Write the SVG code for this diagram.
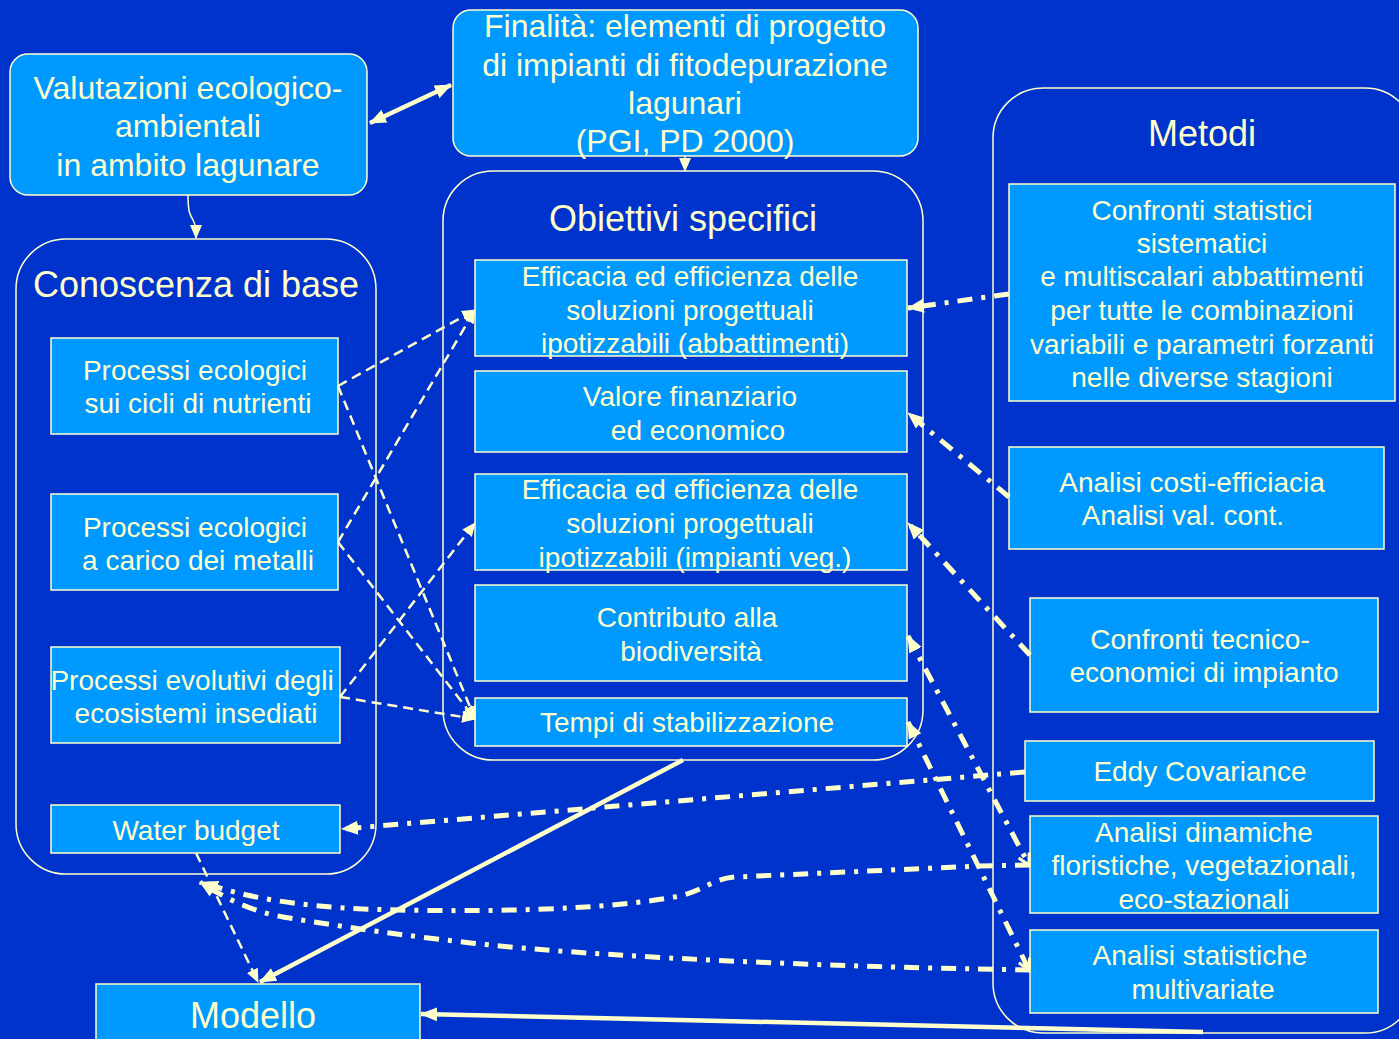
<svg xmlns="http://www.w3.org/2000/svg" width="1399" height="1039" viewBox="0 0 1399 1039">
<defs>
<style>
.bg{fill:#0033CC}
.box{fill:#0099FF;stroke:#FFFFCC;stroke-width:1.5}
.cont{fill:none;stroke:#FFFFCC;stroke-width:1.5}
text{font-family:"Liberation Sans",Arial,sans-serif;fill:#FFFFCC;text-anchor:middle}
.t28{font-size:28px}
.t32{font-size:32px}
.t36{font-size:36px}
.solid{fill:none;stroke:#FFFFCC;stroke-width:4.5}
.thin{fill:none;stroke:#FFFFCC;stroke-width:1.5}
.dash{fill:none;stroke:#FFFFCC;stroke-width:2.5;stroke-dasharray:10 6}
.dd{fill:none;stroke:#FFFFCC;stroke-width:5;stroke-dasharray:15 9 4 9}
</style>
<marker id="ah" markerUnits="userSpaceOnUse" markerWidth="18" markerHeight="16" refX="16" refY="8" orient="auto-start-reverse" viewBox="0 0 18 16">
<path d="M0,1 L17,8 L0,15 z" fill="#FFFFCC"/>
</marker>
<marker id="ahs" markerUnits="userSpaceOnUse" markerWidth="14" markerHeight="14" refX="13" refY="7" orient="auto" viewBox="0 0 14 14">
<path d="M0,1 L14,7 L0,13 z" fill="#FFFFCC"/>
</marker>
<marker id="ao" markerUnits="userSpaceOnUse" markerWidth="16" markerHeight="16" refX="13" refY="8" orient="auto" viewBox="0 0 16 16">
<path d="M2,2 L13,8 L2,14" fill="none" stroke="#FFFFCC" stroke-width="3"/>
</marker>
</defs>
<rect class="bg" x="0" y="0" width="1399" height="1039"/>

<g id="containers">
<g id="conoscenza">
<rect class="cont" x="16" y="239" width="360" height="635" rx="50"/>
<text class="t36" x="196" y="297">Conoscenza di base</text>
</g>
<g id="obiettivi">
<rect class="cont" x="443" y="171" width="480" height="589" rx="50"/>
<text class="t36" x="683" y="231">Obiettivi specifici</text>
</g>
<g id="metodi">
<rect class="cont" x="993" y="88" width="422" height="945" rx="50"/>
<text class="t36" x="1202" y="146">Metodi</text>
</g>
</g>

<g id="valutazioni">
<rect class="box" x="10" y="54" width="357" height="141" rx="18"/>
<text class="t32" x="188" y="99">Valutazioni ecologico-</text>
<text class="t32" x="188" y="137">ambientali</text>
<text class="t32" x="188" y="176">in ambito lagunare</text>
</g>
<g id="finalita">
<rect class="box" x="453" y="10" width="465" height="146" rx="18"/>
<text class="t32" x="685" y="37">Finalità: elementi di progetto</text>
<text class="t32" x="685" y="76">di impianti di fitodepurazione</text>
<text class="t32" x="685" y="114">lagunari</text>
<text class="t32" x="685" y="152">(PGI, PD 2000)</text>
</g>

<g id="processi-nutrienti">
<rect class="box" x="51" y="338" width="287" height="96"/>
<text class="t28" x="195" y="380">Processi ecologici</text>
<text class="t28" x="198" y="413">sui cicli di nutrienti</text>
</g>
<g id="processi-metalli">
<rect class="box" x="51" y="494" width="287" height="96"/>
<text class="t28" x="195" y="537">Processi ecologici</text>
<text class="t28" x="198" y="570">a carico dei metalli</text>
</g>
<g id="processi-evolutivi">
<rect class="box" x="51" y="647" width="289" height="96"/>
<text class="t28" x="192" y="690">Processi evolutivi degli</text>
<text class="t28" x="196" y="723">ecosistemi insediati</text>
</g>
<g id="water-budget">
<rect class="box" x="51" y="805" width="289" height="48"/>
<text class="t28" x="196" y="840">Water budget</text>
</g>

<g id="efficacia-abbattimenti">
<rect class="box" x="475" y="260" width="432" height="96"/>
<text class="t28" x="690" y="286">Efficacia ed efficienza delle</text>
<text class="t28" x="690" y="320">soluzioni progettuali</text>
<text class="t28" x="695" y="353">ipotizzabili (abbattimenti)</text>
</g>
<g id="valore">
<rect class="box" x="475" y="371" width="432" height="81"/>
<text class="t28" x="690" y="406">Valore finanziario</text>
<text class="t28" x="698" y="440">ed economico</text>
</g>
<g id="efficacia-impianti">
<rect class="box" x="475" y="474" width="432" height="96"/>
<text class="t28" x="690" y="499">Efficacia ed efficienza delle</text>
<text class="t28" x="690" y="533">soluzioni progettuali</text>
<text class="t28" x="695" y="567">ipotizzabili (impianti veg.)</text>
</g>
<g id="biodiversita">
<rect class="box" x="475" y="585" width="432" height="96"/>
<text class="t28" x="687" y="627">Contributo alla</text>
<text class="t28" x="691" y="661">biodiversità</text>
</g>
<g id="tempi">
<rect class="box" x="475" y="698" width="432" height="48"/>
<text class="t28" x="687" y="732">Tempi di stabilizzazione</text>
</g>

<g id="confronti-statistici">
<rect class="box" x="1009" y="184" width="386" height="217"/>
<text class="t28" x="1202" y="220">Confronti statistici</text>
<text class="t28" x="1202" y="253">sistematici</text>
<text class="t28" x="1202" y="286">e multiscalari abbattimenti</text>
<text class="t28" x="1202" y="320">per tutte le combinazioni</text>
<text class="t28" x="1202" y="354">variabili e parametri forzanti</text>
<text class="t28" x="1202" y="387">nelle diverse stagioni</text>
</g>
<g id="analisi-costi">
<rect class="box" x="1009" y="447" width="375" height="102"/>
<text class="t28" x="1192" y="492">Analisi costi-efficiacia</text>
<text class="t28" x="1183" y="525">Analisi val. cont.</text>
</g>
<g id="confronti-tecnico">
<rect class="box" x="1030" y="598" width="348" height="114"/>
<text class="t28" x="1200" y="649">Confronti tecnico-</text>
<text class="t28" x="1204" y="682">economici di impianto</text>
</g>
<g id="eddy">
<rect class="box" x="1025" y="741" width="349" height="60"/>
<text class="t28" x="1200" y="781">Eddy Covariance</text>
</g>
<g id="analisi-dinamiche">
<rect class="box" x="1030" y="816" width="348" height="97"/>
<text class="t28" x="1204" y="842">Analisi dinamiche</text>
<text class="t28" x="1204" y="875">floristiche, vegetazionali,</text>
<text class="t28" x="1204" y="909">eco-stazionali</text>
</g>
<g id="analisi-statistiche">
<rect class="box" x="1030" y="930" width="348" height="83"/>
<text class="t28" x="1200" y="965">Analisi statistiche</text>
<text class="t28" x="1203" y="999">multivariate</text>
</g>
<g id="modello">
<rect class="box" x="96" y="984" width="324" height="70"/>
<text class="t36" x="253" y="1028">Modello</text>
</g>

<g id="connectors">
<line class="solid" x1="370" y1="123" x2="451" y2="85" marker-start="url(#ah)" marker-end="url(#ah)"/>
<path class="thin" d="M188,195 C188,212 190,215 193,220 C196,226 196,228 196,238" marker-end="url(#ahs)"/>
<line class="thin" x1="685" y1="156" x2="685" y2="171" marker-end="url(#ahs)"/>

<line class="dash" x1="338" y1="386" x2="475" y2="310" marker-end="url(#ahs)"/>
<line class="dash" x1="338" y1="386" x2="475" y2="719" marker-end="url(#ahs)"/>
<line class="dash" x1="338" y1="542" x2="475" y2="310" marker-end="url(#ahs)"/>
<line class="dash" x1="338" y1="542" x2="475" y2="719" marker-end="url(#ahs)"/>
<line class="dash" x1="340" y1="697" x2="475" y2="523" marker-end="url(#ahs)"/>
<line class="dash" x1="340" y1="697" x2="475" y2="719" marker-end="url(#ahs)"/>
<line class="dash" x1="196" y1="853" x2="258" y2="982" marker-end="url(#ahs)"/>

<line class="dd" x1="1009" y1="294" x2="908" y2="308" marker-end="url(#ah)"/>
<line class="dd" x1="1009" y1="497" x2="908" y2="413" marker-end="url(#ah)"/>
<line class="dd" x1="1030" y1="655" x2="908" y2="523" marker-end="url(#ah)"/>
<line class="dd" x1="1025" y1="772" x2="342" y2="829" marker-end="url(#ah)"/>
<line class="dd" x1="908" y1="636" x2="1029" y2="865" marker-start="url(#ah)" marker-end="url(#ao)"/>
<line class="dd" x1="908" y1="722" x2="1029" y2="970" marker-start="url(#ah)" marker-end="url(#ao)"/>
<path class="dd" d="M1030,865 L980,866 L735,877 C712,879 705,890 680,896 C610,910 480,913 363,909 C300,906 245,898 202,882" marker-end="url(#ah)"/>
<path class="dd" d="M1030,970 C900,968 700,962 547,950 C450,943 330,925 283,917 C250,911 225,898 200,882" marker-end="url(#ah)"/>

<line class="solid" x1="683" y1="760" x2="260" y2="982" marker-end="url(#ah)"/>
<line class="solid" x1="1203" y1="1032" x2="421" y2="1014" marker-end="url(#ah)"/>
</g>
</svg>
